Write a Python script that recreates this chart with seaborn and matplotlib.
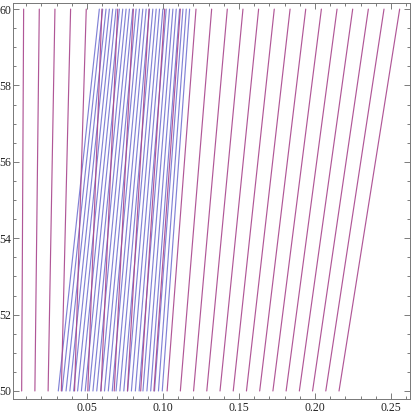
import numpy as np
import pandas as pd
import matplotlib
matplotlib.use("Agg")
import matplotlib.pyplot as plt
import seaborn as sns
from matplotlib.ticker import MultipleLocator

# y extent of every curve
y_bottom = 50.0
y_top = 60.0

# magenta family: x at y=50 and at y=60
red_bottom = [0.0070, 0.0157, 0.0244, 0.0331, 0.0418, 0.0505, 0.0592, 0.0679,
              0.0766, 0.0853, 0.0940, 0.1027, 0.1114, 0.1201, 0.1288, 0.1375,
              0.1462, 0.1549, 0.1636, 0.1723, 0.1810, 0.1897, 0.1984, 0.2071,
              0.2158]
red_top = [0.0083, 0.0186, 0.0289, 0.0392, 0.0495, 0.0598, 0.0702, 0.0805,
           0.0908, 0.1011, 0.1114, 0.1217, 0.1320, 0.1423, 0.1526, 0.1629,
           0.1732, 0.1836, 0.1939, 0.2042, 0.2145, 0.2248, 0.2351, 0.2454,
           0.2557]

# blue family: x at y=50 and at y=60
blue_bottom = [0.0311, 0.0336, 0.0362, 0.0387, 0.0412, 0.0438, 0.0463, 0.0488,
               0.0514, 0.0539, 0.0564, 0.0590, 0.0615, 0.0640, 0.0666, 0.0691,
               0.0716, 0.0742, 0.0767, 0.0792, 0.0818, 0.0843, 0.0868, 0.0894,
               0.0919, 0.0944, 0.0970, 0.0995]
blue_top = [0.0581, 0.0603, 0.0625, 0.0647, 0.0669, 0.0691, 0.0713, 0.0735,
            0.0757, 0.0779, 0.0801, 0.0823, 0.0845, 0.0867, 0.0889, 0.0911,
            0.0933, 0.0955, 0.0977, 0.0999, 0.1021, 0.1043, 0.1065, 0.1087,
            0.1109, 0.1131, 0.1153, 0.1175]

x_ticks = [0.05, 0.10, 0.15, 0.20, 0.25]
x_tick_labels = ["0.05", "0.10", "0.15", "0.20", "0.25"]
y_ticks = [50, 52, 54, 56, 58, 60]
y_tick_labels = ["50", "52", "54", "56", "58", "60"]


def long_form(bottoms, tops):
    rows = []
    for i, (b, t) in enumerate(zip(bottoms, tops)):
        rows.append({"line": i, "x": b, "y": y_bottom})
        rows.append({"line": i, "x": t, "y": y_top})
    return pd.DataFrame(rows)


df_red = long_form(red_bottom, red_top)
df_blue = long_form(blue_bottom, blue_top)

sns.set_style("white")
plt.rcParams["font.family"] = ["Liberation Serif", "DejaVu Serif"]

fig = plt.figure(figsize=(4.14, 4.15), dpi=100)
ax = fig.add_axes([13 / 414, 16 / 415, (410 - 13) / 414, (399 - 3) / 415])

sns.lineplot(data=df_blue, x="x", y="y", units="line", estimator=None,
             sort=False, color="#6262cc", lw=0.85, alpha=0.8, ax=ax)
sns.lineplot(data=df_red, x="x", y="y", units="line", estimator=None,
             sort=False, color="#a8458c", lw=0.85, alpha=0.9, ax=ax)

ax.set_xlim(0.0013, 0.2625)
ax.set_ylim(49.79, 60.16)
ax.set_xlabel("")
ax.set_ylabel("")

ax.set_xticks(x_ticks)
ax.set_xticklabels(x_tick_labels)
ax.set_yticks(y_ticks)
ax.set_yticklabels(y_tick_labels)
ax.xaxis.set_minor_locator(MultipleLocator(0.01))
ax.yaxis.set_minor_locator(MultipleLocator(0.5))

ax.tick_params(which="both", direction="in", top=True, right=True,
               bottom=True, left=True, color="#666666", width=0.6,
               labelsize=8.5, labelcolor="#222222", pad=2)
ax.tick_params(which="major", length=4)
ax.tick_params(which="minor", length=2.5)
ax.tick_params(axis="y", pad=1)

for s in ax.spines.values():
    s.set_color("#777777")
    s.set_linewidth(0.7)
    s.set_visible(True)

fig.savefig("out.png", dpi=100)
